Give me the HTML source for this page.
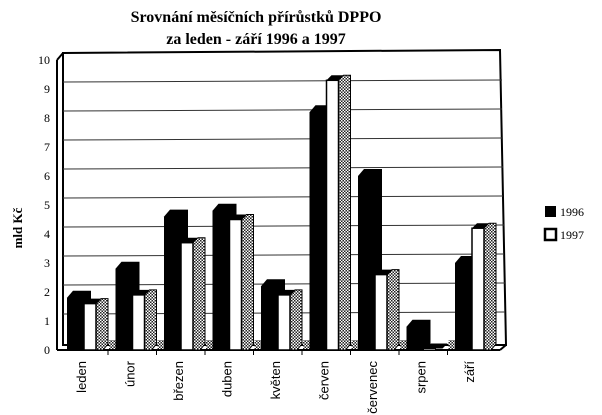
<!DOCTYPE html>
<html><head><meta charset="utf-8"><style>
body{margin:0;background:#fff}
svg{display:block}
text{font-family:"Liberation Serif",serif}
.lb text{font-family:"Liberation Sans",sans-serif;font-size:13px}
</style></head><body>
<svg width="602" height="415" viewBox="0 0 602 415" xmlns="http://www.w3.org/2000/svg">
<defs>
<pattern id="h" width="3" height="3" patternUnits="userSpaceOnUse">
<rect width="3" height="3" fill="#fff"/><rect width="1.5" height="1.5" fill="#222"/><rect x="1.5" y="1.5" width="1.5" height="1.5" fill="#222"/>
</pattern>
</defs>
<text x="256" y="22" font-size="16" font-weight="bold" text-anchor="middle">Srovnání měsíčních přírůstků DPPO</text>
<text x="256" y="44" font-size="16" font-weight="bold" text-anchor="middle">za leden - září 1996 a 1997</text>
<text transform="translate(22,228) rotate(-90)" font-size="13" font-weight="bold" text-anchor="middle">mld Kč</text>
<polygon points="63,53 500,50 506,345 63,345" fill="#fff" stroke="#000" stroke-width="2"/>
<g stroke="#333" stroke-width="1">
<line x1="63" y1="82" x2="502" y2="80"/><line x1="63" y1="111" x2="502" y2="109"/>
<line x1="63" y1="140" x2="502" y2="138"/><line x1="63" y1="169" x2="503" y2="167"/>
<line x1="63" y1="198" x2="503" y2="196"/><line x1="63" y1="227" x2="504" y2="225"/>
<line x1="63" y1="256" x2="504" y2="254"/><line x1="63" y1="285" x2="505" y2="283"/>
<line x1="63" y1="314" x2="505" y2="312"/>
</g>
<line x1="57" y1="60" x2="57" y2="350" stroke="#000" stroke-width="2"/>
<line x1="57" y1="60" x2="63" y2="53" stroke="#000" stroke-width="2"/>
<line x1="57" y1="350" x2="500" y2="350" stroke="#000" stroke-width="2"/>
<line x1="500" y1="350" x2="506" y2="345" stroke="#000" stroke-width="2"/>
<g font-size="12" text-anchor="end">
<text x="50" y="354">0</text><text x="50" y="325">1</text><text x="50" y="296">2</text>
<text x="50" y="267">3</text><text x="50" y="238">4</text><text x="50" y="209">5</text>
<text x="50" y="180">6</text><text x="50" y="151">7</text><text x="50" y="122">8</text>
<text x="50" y="93">9</text><text x="50" y="64">10</text>
</g>

<g transform="translate(67,0)">
<polygon points="0,297.8 6,290.8 24,290.8 24,343 18,350 0,350" fill="#000"/>
<rect x="42" y="340" width="8" height="9" fill="url(#h)"/>
<polygon points="29,303.6 34,298.6 41,298.6 41,344 36,350 29,350" fill="url(#h)" stroke="#000"/>
<polygon points="17,303.6 22,298.6 34,298.6 29,303.6" fill="#000"/>
<rect x="17" y="303.6" width="12" height="46.4" fill="#fff" stroke="#000" stroke-width="1.5"/>
</g>
<g transform="translate(115.5,0)">
<polygon points="0,268.8 6,261.8 24,261.8 24,343 18,350 0,350" fill="#000"/>
<rect x="42" y="340" width="8" height="9" fill="url(#h)"/>
<polygon points="29,294.9 34,289.9 41,289.9 41,344 36,350 29,350" fill="url(#h)" stroke="#000"/>
<polygon points="17,294.9 22,289.9 34,289.9 29,294.9" fill="#000"/>
<rect x="17" y="294.9" width="12" height="55.1" fill="#fff" stroke="#000" stroke-width="1.5"/>
</g>
<g transform="translate(164,0)">
<polygon points="0,216.6 6,209.6 24,209.6 24,343 18,350 0,350" fill="#000"/>
<rect x="42" y="340" width="8" height="9" fill="url(#h)"/>
<polygon points="29,242.7 34,237.7 41,237.7 41,344 36,350 29,350" fill="url(#h)" stroke="#000"/>
<polygon points="17,242.7 22,237.7 34,237.7 29,242.7" fill="#000"/>
<rect x="17" y="242.7" width="12" height="107.3" fill="#fff" stroke="#000" stroke-width="1.5"/>
</g>
<g transform="translate(212.5,0)">
<polygon points="0,210.8 6,203.8 24,203.8 24,343 18,350 0,350" fill="#000"/>
<rect x="42" y="340" width="8" height="9" fill="url(#h)"/>
<polygon points="29,219.5 34,214.5 41,214.5 41,344 36,350 29,350" fill="url(#h)" stroke="#000"/>
<polygon points="17,219.5 22,214.5 34,214.5 29,219.5" fill="#000"/>
<rect x="17" y="219.5" width="12" height="130.5" fill="#fff" stroke="#000" stroke-width="1.5"/>
</g>
<g transform="translate(261,0)">
<polygon points="0,286.2 6,279.2 24,279.2 24,343 18,350 0,350" fill="#000"/>
<rect x="42" y="340" width="8" height="9" fill="url(#h)"/>
<polygon points="29,294.9 34,289.9 41,289.9 41,344 36,350 29,350" fill="url(#h)" stroke="#000"/>
<polygon points="17,294.9 22,289.9 34,289.9 29,294.9" fill="#000"/>
<rect x="17" y="294.9" width="12" height="55.1" fill="#fff" stroke="#000" stroke-width="1.5"/>
</g>
<g transform="translate(309.5,0)">
<polygon points="0,112.2 6,105.2 24,105.2 24,343 18,350 0,350" fill="#000"/>
<rect x="42" y="340" width="8" height="9" fill="url(#h)"/>
<polygon points="29,80.3 34,75.3 41,75.3 41,344 36,350 29,350" fill="url(#h)" stroke="#000"/>
<polygon points="17,80.3 22,75.3 34,75.3 29,80.3" fill="#000"/>
<rect x="17" y="80.3" width="12" height="269.7" fill="#fff" stroke="#000" stroke-width="1.5"/>
</g>
<g transform="translate(358,0)">
<polygon points="0,176 6,169 24,169 24,343 18,350 0,350" fill="#000"/>
<rect x="42" y="340" width="8" height="9" fill="url(#h)"/>
<polygon points="29,274.6 34,269.6 41,269.6 41,344 36,350 29,350" fill="url(#h)" stroke="#000"/>
<polygon points="17,274.6 22,269.6 34,269.6 29,274.6" fill="#000"/>
<rect x="17" y="274.6" width="12" height="75.4" fill="#fff" stroke="#000" stroke-width="1.5"/>
</g>
<g transform="translate(406.5,0)">
<polygon points="0,326.8 6,319.8 24,319.8 24,343 18,350 0,350" fill="#000"/>
<rect x="42" y="340" width="8" height="9" fill="url(#h)"/>
<polygon points="17,348.5 22,343.5 41,343.5 36,348.5" fill="#000"/>
<rect x="17" y="348.5" width="12" height="1.5" fill="#fff" stroke="#000"/>
</g>
<g transform="translate(455,0)">
<polygon points="0,263 6,256 24,256 24,343 18,350 0,350" fill="#000"/>
<polygon points="29,228.2 34,223.2 41,223.2 41,344 36,350 29,350" fill="url(#h)" stroke="#000"/>
<polygon points="17,228.2 22,223.2 34,223.2 29,228.2" fill="#000"/>
<rect x="17" y="228.2" width="12" height="121.8" fill="#fff" stroke="#000" stroke-width="1.5"/>
</g>

<g class="lb" text-anchor="end">
<text transform="translate(86,361) rotate(-90)">leden</text>
<text transform="translate(134.5,361) rotate(-90)">únor</text>
<text transform="translate(183,361) rotate(-90)">březen</text>
<text transform="translate(231.5,361) rotate(-90)">duben</text>
<text transform="translate(280,361) rotate(-90)">květen</text>
<text transform="translate(328.5,361) rotate(-90)">červen</text>
<text transform="translate(377,361) rotate(-90)">červenec</text>
<text transform="translate(425.5,361) rotate(-90)">srpen</text>
<text transform="translate(474,361) rotate(-90)">září</text>
</g>
<g stroke="#000">
<line x1="108" y1="350" x2="108" y2="355"/><line x1="156.5" y1="350" x2="156.5" y2="355"/>
<line x1="205" y1="350" x2="205" y2="355"/><line x1="253.5" y1="350" x2="253.5" y2="355"/>
<line x1="302" y1="350" x2="302" y2="355"/><line x1="350.5" y1="350" x2="350.5" y2="355"/>
<line x1="399" y1="350" x2="399" y2="355"/><line x1="447.5" y1="350" x2="447.5" y2="355"/>
</g>
<rect x="545" y="206" width="11" height="11" fill="#000"/>
<text x="560" y="216" font-size="12">1996</text>
<rect x="545" y="229" width="11" height="11" fill="#fff" stroke="#000" stroke-width="2.5"/>
<text x="560" y="239" font-size="12">1997</text>
</svg>
</body></html>
